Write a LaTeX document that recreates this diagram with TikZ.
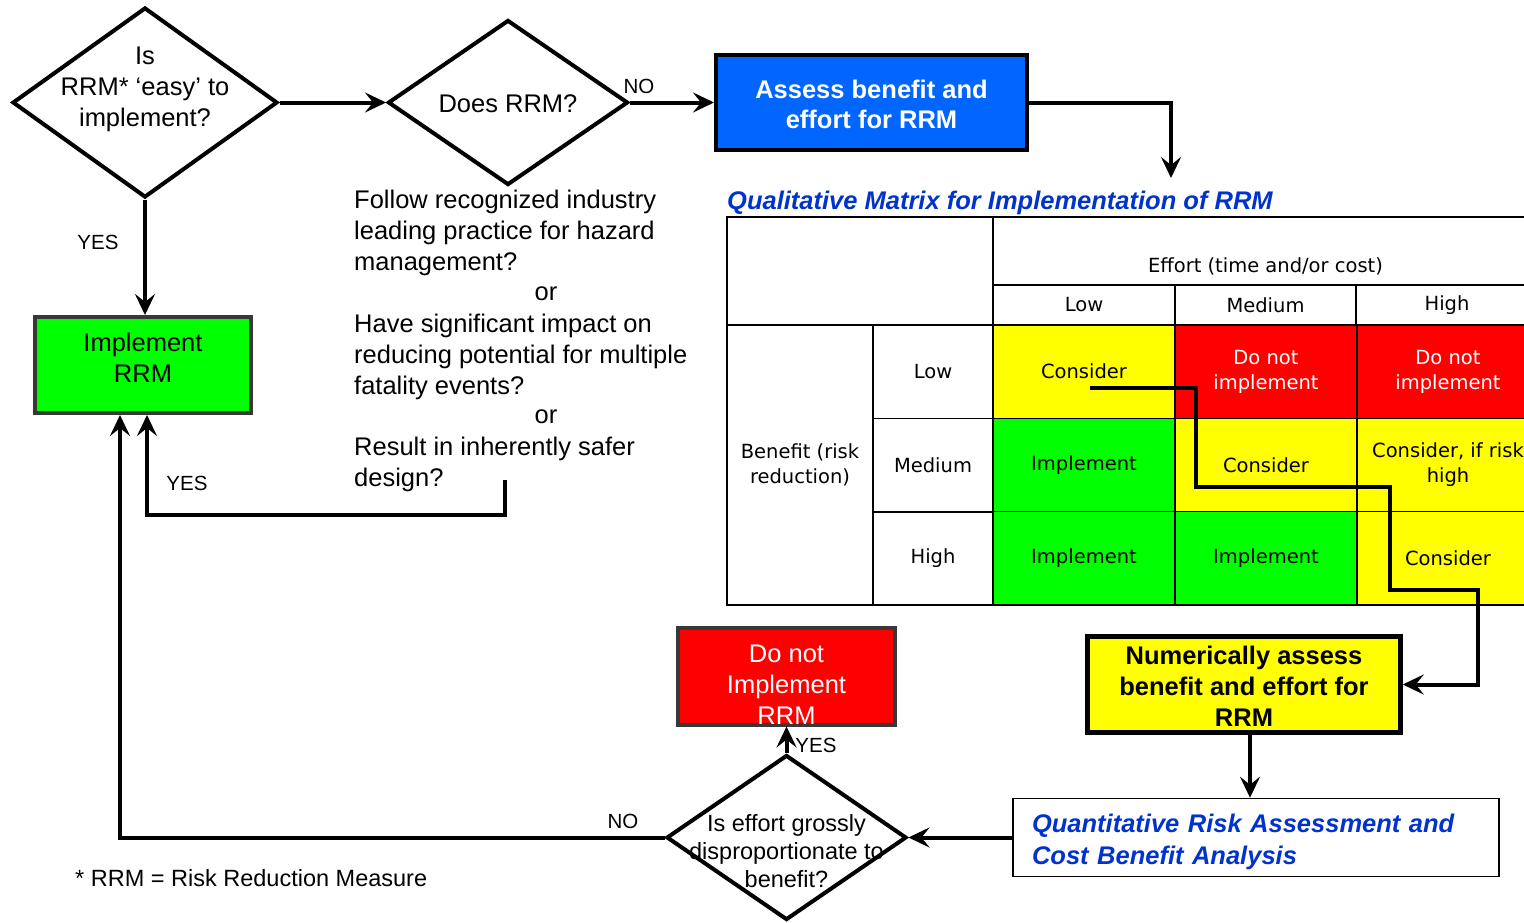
\documentclass[tikz,border=0pt]{standalone}
\usepackage{fontspec}
\setmainfont{Liberation Sans}
\newfontfamily\gridfont{DejaVu Sans}
\usetikzlibrary{shapes.geometric, arrows.meta}
\definecolor{rrmBlue}{RGB}{0,102,255}
\definecolor{rrmInk}{RGB}{0,51,204}
\definecolor{rrmGreen}{RGB}{0,255,0}
\definecolor{rrmRed}{RGB}{255,0,0}
\definecolor{rrmYellow}{RGB}{255,255,0}
\definecolor{rrmFrame}{RGB}{56,56,56}
\tikzstyle{decision}=[diamond, draw=black, line width=4pt, inner sep=0pt]
\tikzstyle{action}=[rectangle, line width=4pt, inner sep=0pt]
\tikzstyle{caption}=[align=center, inner sep=0pt, font=\fontsize{25.5}{31}\selectfont]
\tikzstyle{answer}=[inner sep=0pt, font=\fontsize{20.5}{24}\selectfont]
\tikzstyle{flow}=[line width=4pt, -{Stealth[length=21pt, width=20pt, inset=8pt]}]
\tikzstyle{gridtext}=[align=center, font=\gridfont\fontsize{19.5}{25}\selectfont]
\tikzstyle{cell}=[rectangle, draw=black, line width=1.5pt, inner sep=0pt, gridtext]

\begin{document}
\begin{tikzpicture}[x=1pt, y=-1pt]
  \useasboundingbox (0,0) rectangle (1524,922);
  \clip (0,0) rectangle (1524,922);

  % decisions
  \node[decision, minimum width=265pt, minimum height=190pt,
    label={[caption, yshift=13.5pt]center:Is\\RRM* ‘easy’ to\\implement?}] (easy) at (145,102.5) {};
  \node[decision, minimum width=240pt, minimum height=165pt,
    label={[caption, yshift=-1pt]center:Does RRM?}] (does) at (508,102.5) {};
  \node[decision, minimum width=240pt, minimum height=165pt,
    label={[caption, font=\fontsize{23.5}{28}\selectfont, yshift=-13.5pt]center:Is effort grossly\\disproportionate to\\benefit?}] (gross) at (786.5,837.5) {};

  % boxes
  \node[action, fill=rrmBlue, draw=black, minimum width=311pt, minimum height=95pt, text height=52.6pt,
    align=center, text=white, font=\bfseries\fontsize{25.5}{30}\selectfont] (assess) at (871.5,102.5)
    {Assess benefit and\\effort for RRM};
  \node[action, fill=rrmGreen, draw=rrmFrame, minimum width=216pt, minimum height=96pt,
    label={[caption, yshift=7.5pt]center:Implement\\RRM}] (implement) at (143,365) {};
  \node[action, fill=rrmRed, draw=rrmFrame, minimum width=217pt, minimum height=97pt,
    label={[caption, text=white, yshift=-8.5pt]center:Do not\\Implement\\RRM}] (donot) at (786.5,676) {};
  \node[action, fill=rrmYellow, draw=black, line width=4.5pt, minimum width=313pt, minimum height=96pt,
    text height=84.6pt, align=center, font=\bfseries\fontsize{25.5}{31}\selectfont] (numeric) at (1244,684.5)
    {Numerically assess\\benefit and effort for\\RRM};
  \node[action, draw=black, line width=1.5pt, text width=448pt, inner xsep=19pt, minimum height=78pt,
    text height=26.6pt, align=left, text=rrmInk, font=\bfseries\itshape\fontsize{25.5}{32}\selectfont]
    (qra) at (1256,837.5) {Quantitative Risk Assessment and\\Cost Benefit Analysis};

  % criteria
  \node[caption, align=left, anchor=west] (follow) at (354,232.5)
    {Follow recognized industry\\leading practice for hazard\\management?};
  \node[caption] (orfirst) at (546,293.5) {or};
  \node[caption, align=left, anchor=west] (impact) at (354,356.5)
    {Have significant impact on\\reducing potential for multiple\\fatality events?};
  \node[caption] (orsecond) at (546,416.5) {or};
  \node[caption, align=left, anchor=west] (safer) at (354,464.5)
    {Result in inherently safer\\design?};

  % qualitative matrix
  \node[anchor=west, inner sep=0pt, text=rrmInk, font=\bfseries\itshape\fontsize{25.5}{31}\selectfont]
    (matrixtitle) at (727,203) {Qualitative Matrix for Implementation of RRM};
  \node[cell, minimum width=266pt, minimum height=108pt] (corner) at (860,271) {};
  \node[cell, minimum width=545pt, minimum height=68pt,
    label={[gridtext, yshift=-15pt]center:Effort (time and/or cost)}] (effort) at (1265.5,251) {};
  \node[cell, minimum width=182pt, minimum height=40pt] (effortlow) at (1084,305) {Low};
  \node[cell, minimum width=181pt, minimum height=40pt] (effortmedium) at (1265.5,305) {Medium};
  \node[cell, minimum width=182pt, minimum height=40pt] (efforthigh) at (1447,305) {High};
  \node[cell, minimum width=146pt, minimum height=280pt] (benefit) at (800,465) {Benefit (risk\\reduction)};
  \node[cell, minimum width=120pt, minimum height=93.3pt] (benefitlow) at (933,371.6) {Low};
  \node[cell, minimum width=120pt, minimum height=93.3pt] (benefitmedium) at (933,465) {Medium};
  \node[cell, minimum width=120pt, minimum height=93.3pt] (benefithigh) at (933,558.4) {High};
  \foreach \r/\c/\shade/\ink/\verdict in {
      1/1/rrmYellow/black/Consider, 1/2/rrmRed/white/{Do not\\implement}, 1/3/rrmRed/white/{Do not\\implement},
      2/1/rrmGreen/black/Implement, 2/2/rrmYellow/black/Consider, 2/3/rrmYellow/black/{Consider, if risk\\high},
      3/1/rrmGreen/black/Implement, 3/2/rrmGreen/black/Implement, 3/3/rrmYellow/black/Consider}
    \node[cell, fill=\shade, text=\ink, minimum width=182pt, minimum height=93.3pt]
      (m-\r-\c) at ({993+182*\c-91},{325+93.3*\r-46.65}) {\verdict};

  % connectors
  \coordinate (matrixentry) at (1171,178);
  \coordinate (pathstart) at (1090,388);
  \coordinate (criteriaend) at (505,480);
  \draw[flow] (easy.east) -- (does.west);
  \draw[flow] (does.east) -- (assess.west);
  \draw[flow] (assess.east) -| (matrixentry);
  \draw[flow] (easy.south) -- (easy.south |- implement.north);
  \draw[flow] (criteriaend) -- (505,515) -| ([xshift=4pt]implement.south);
  \draw[flow] (pathstart) -- (1196,388) -- (1196,487) -- (1390,487) -- (1390,590) -- (1478,590) |- (numeric.east);
  \draw[flow] ([xshift=6pt]numeric.south) -- ([xshift=6pt]numeric.south |- qra.north);
  \draw[flow] (qra.west) -- (gross.east);
  \draw[flow] (gross.north) -- (donot.south);
  \draw[flow] (gross.west) -| ([xshift=-23pt]implement.south);

  % answers
  \node[answer] (noassess) at (639,86) {NO};
  \node[answer] (yesimplement) at (98,242) {YES};
  \node[answer] (yescriteria) at (187,483) {YES};
  \node[answer] (yesdonot) at (816,745) {YES};
  \node[answer] (nogross) at (623,821) {NO};

  \node[anchor=west, inner sep=0pt, font=\fontsize{23.5}{28}\selectfont] (footnote) at (75,878)
    {* RRM = Risk Reduction Measure};
\end{tikzpicture}
\end{document}
